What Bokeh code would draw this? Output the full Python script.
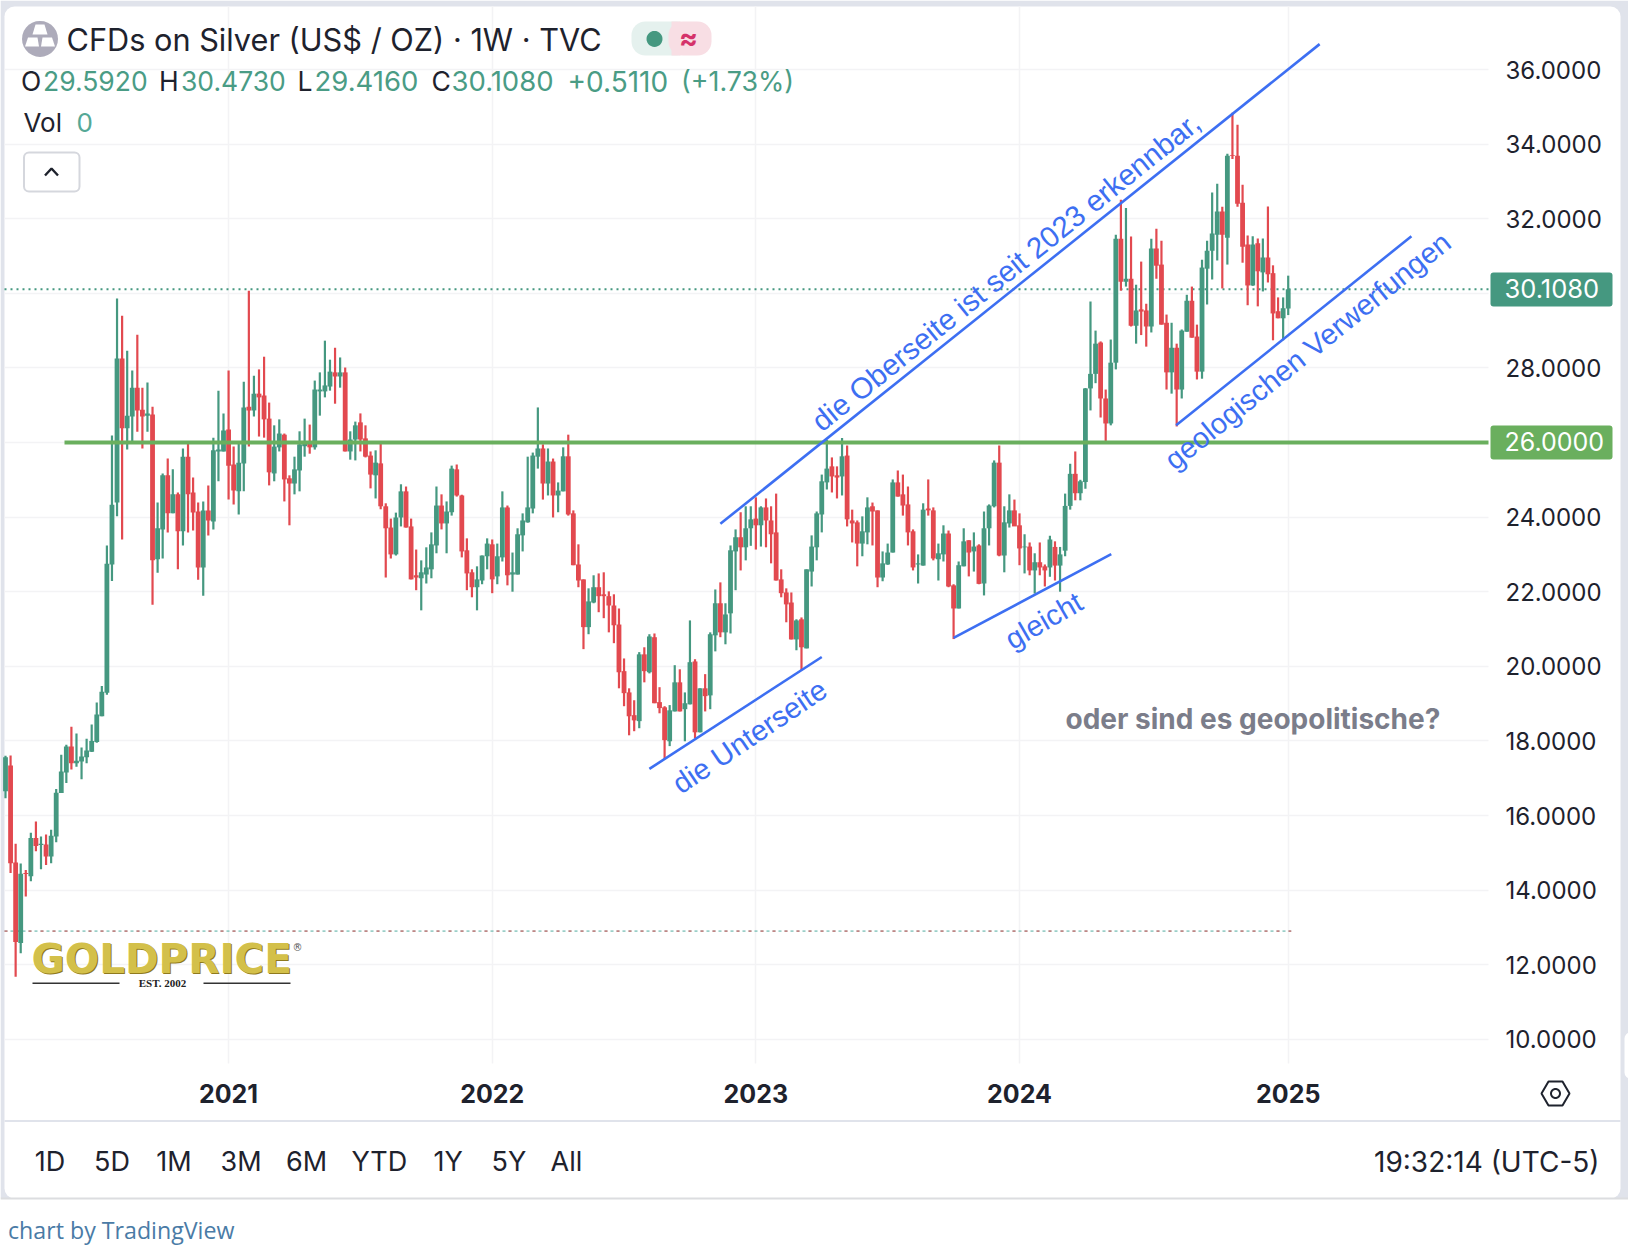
from bokeh.plotting import figure
from bokeh.embed import file_html
from bokeh.resources import INLINE
from bokeh.models import Range1d, FixedTicker, Label, BoxAnnotation, PolyAnnotation, ColumnDataSource
import numpy as np

opens = [16.65,17.34,14.74,12.58,14.46,14.37,15.4,15.21,15.22,14.9,
15.44,16.6,17.15,17.85,17.4,17.45,17.56,17.71,17.97,18.66,
19.29,22.73,24.39,28.25,26.38,26.7,27.47,26.88,26.72,26.75,
22.87,23.67,25.12,24.1,24.61,23.62,25.62,24.66,24.15,22.65,
24.18,23.88,25.76,25.76,26.35,25.41,24.69,25.44,26.96,26.86,
27.31,27.26,26.64,25.17,25.87,26.21,25.04,24.9,25.25,25.9,
25.96,25.87,27.37,27.37,27.5,27.88,27.77,27.88,25.76,26.08,
26.54,26.11,25.65,25.12,25.44,24.29,23.72,23.0,23.99,24.69,
23.75,22.44,22.36,22.46,22.6,23.24,24.31,23.83,24.13,25.28,
24.58,23.11,22.52,22.12,22.3,22.95,23.27,22.41,22.92,24.26,
22.46,22.46,23.51,23.86,24.23,25.62,25.84,24.9,25.49,24.58,
24.69,25.63,24.1,22.73,22.33,21.05,21.71,22.12,21.93,21.88,
21.63,21.12,19.87,19.3,18.69,18.53,20.32,19.84,20.78,19.04,
18.9,17.99,18.79,19.57,18.85,18.98,20.13,18.23,19.41,19.22,
20.83,21.69,20.91,21.42,23.08,23.46,23.19,23.7,23.96,23.78,
24.26,23.91,23.59,22.33,21.98,21.71,20.72,21.26,20.48,22.54,
23.19,24.07,24.93,25.36,25.12,25.09,25.65,23.91,23.86,23.29,
23.59,24.29,24.18,22.38,22.73,23.05,24.93,24.61,24.34,23.62,
22.73,22.7,24.23,24.18,22.87,23.0,23.56,22.17,21.55,22.68,
23.38,23.08,23.24,22.22,23.7,24.29,25.46,22.97,23.83,24.18,
23.78,23.19,23.21,22.57,22.79,22.68,22.65,23.2,22.7,23.1,
24.3,25.16,24.64,24.94,27.45,27.84,28.68,27.18,26.51,28.14,
31.46,30.31,30.39,29.13,29.57,29.54,29.11,31.2,30.77,29.21,
27.88,28.54,27.42,28.97,29.8,28.84,27.9,30.66,31.14,31.57,
32.19,31.49,33.71,33.69,32.43,31.31,30.21,31.34,30.56,30.96,
30.54,29.52,29.33,29.592]

closes = [17.56,14.72,12.61,14.44,14.43,15.4,15.18,15.24,14.9,15.46,
16.61,17.18,17.85,17.4,17.47,17.58,17.74,18.0,18.71,19.32,
22.75,24.33,28.25,26.38,26.72,27.47,26.86,26.7,26.78,22.84,
23.7,25.12,24.1,24.61,23.62,25.62,24.61,24.12,22.65,24.18,
23.91,25.79,25.81,26.32,25.38,24.71,25.46,26.94,26.86,27.31,
27.21,26.62,25.2,25.89,26.24,25.01,24.9,25.28,25.95,26.0,
25.87,27.42,27.42,27.53,27.9,27.77,27.88,25.76,26.08,26.46,
26.08,25.62,25.14,25.46,24.29,23.7,23.0,23.99,24.69,23.72,
22.33,22.38,22.52,22.65,23.27,24.31,23.83,24.15,25.3,24.58,
23.08,22.49,22.12,22.33,22.97,23.29,22.33,22.95,24.26,22.44,
22.52,23.54,23.91,24.26,25.65,25.84,24.9,25.49,24.58,24.71,
25.63,24.07,22.71,22.3,21.05,21.74,22.12,21.88,21.88,21.63,
21.1,19.84,19.28,18.66,18.55,20.32,19.87,20.8,19.01,18.88,
18.02,18.82,19.57,18.79,19.01,20.11,18.23,19.41,19.2,20.86,
21.69,20.91,21.39,23.11,23.46,23.19,23.7,23.94,23.78,24.26,
23.91,23.54,22.3,21.96,21.66,20.72,21.23,20.51,22.6,23.21,
24.1,24.96,25.3,25.09,25.06,25.63,23.94,23.83,23.29,23.62,
24.26,24.15,22.38,22.76,23.05,24.93,24.55,24.31,23.59,22.65,
22.76,24.2,24.18,22.89,23.03,23.56,22.14,21.55,22.71,23.35,
23.05,23.21,22.21,23.7,24.31,25.46,22.97,23.86,24.18,23.75,
23.16,23.21,22.57,22.79,22.65,22.57,23.4,22.7,23.0,24.3,
25.16,24.64,24.96,27.45,27.84,28.65,27.18,26.51,28.14,31.46,
30.31,30.39,29.13,29.54,29.51,29.11,31.2,30.74,29.16,27.88,
28.54,27.42,29.0,29.8,28.81,27.9,30.69,31.14,31.6,32.19,
31.57,33.69,33.69,32.4,31.25,30.21,31.31,30.59,30.96,30.51,
29.46,29.33,29.6,30.108]

highs = [17.6,17.61,15.24,14.71,14.54,15.54,15.84,15.44,15.49,15.62,
16.71,17.63,17.9,18.38,18.2,17.82,18.06,18.44,19.03,19.47,
23.24,26.19,29.86,29.4,28.46,27.93,28.89,27.47,27.61,26.96,
24.39,25.17,25.57,25.28,24.66,25.84,26.0,25.06,24.39,24.42,
24.85,26.13,27.39,26.78,27.93,25.89,26.03,27.63,30.07,27.79,
27.96,28.3,27.07,26.46,26.62,26.24,25.12,25.62,26.3,26.64,
26.48,27.66,27.88,28.73,28.22,28.54,28.28,28.01,26.3,26.56,
26.78,26.46,25.76,25.79,26.0,24.37,23.96,24.12,24.88,24.82,
23.96,23.13,22.84,23.19,23.59,24.82,24.61,24.42,25.38,25.41,
24.6,23.43,22.6,22.68,22.97,23.43,23.4,23.29,24.69,24.31,
23.05,23.7,24.1,25.62,25.73,26.94,25.95,25.84,25.57,24.93,
25.87,26.21,24.18,23.27,22.33,22.09,22.44,22.49,22.52,22.01,
21.93,21.55,20.21,19.41,19.09,20.38,20.51,20.86,20.88,19.44,
18.93,18.96,20.03,19.92,19.3,21.23,20.19,19.41,19.79,20.91,
22.06,22.25,21.69,23.24,23.67,24.13,24.29,24.29,24.53,24.29,
24.5,24.29,24.63,22.6,22.09,21.98,21.26,21.31,22.6,23.51,
24.15,25.14,26.07,25.6,25.36,26.12,25.92,24.2,23.91,24.02,
24.53,24.39,24.18,23.08,23.29,25.01,25.25,25.14,24.82,23.67,
23.0,24.37,25.01,24.26,23.29,23.78,23.64,22.2,22.81,23.7,
23.38,23.59,23.27,24.15,24.34,25.52,25.92,24.29,24.61,24.47,
24.1,23.54,23.32,23.03,23.32,22.73,23.5,23.35,23.2,24.63,
25.43,25.76,25.0,27.46,29.78,29.0,28.71,27.42,28.76,31.57,
32.51,32.29,31.52,30.23,30.85,29.72,31.46,31.73,31.41,29.43,
29.21,28.65,29.03,29.96,30.18,29.16,30.9,31.41,32.7,32.94,
32.32,33.74,34.84,34.52,32.91,31.55,31.53,31.47,31.47,32.33,
30.75,29.89,29.89,30.473]

lows = [16.46,14.46,11.68,12.31,13.83,14.24,15.04,14.56,14.67,14.72,
15.28,16.6,16.87,17.23,17.31,16.97,17.4,17.7,17.95,18.66,
19.24,22.29,24.02,23.4,25.81,26.04,26.29,25.84,26.29,21.65,
22.51,22.89,23.59,24.1,22.6,23.24,23.59,23.64,22.32,21.89,
23.51,23.67,24.96,25.76,24.47,24.34,24.07,24.69,25.89,26.7,
26.16,26.13,24.85,24.96,25.76,24.42,23.78,24.61,24.69,25.62,
25.7,25.81,26.72,27.21,27.39,27.04,27.47,25.76,25.54,25.52,
25.76,25.6,24.77,24.5,24.21,22.38,22.89,22.97,23.75,23.72,
22.33,22.04,21.5,22.22,22.36,23.03,23.67,23.03,24.04,24.55,
22.92,22.04,21.85,21.5,22.2,22.6,21.96,22.2,22.81,22.17,
22.0,22.46,23.08,23.85,24.1,25.3,24.47,24.58,23.99,24.13,
24.69,24.04,22.71,22.12,20.46,20.86,21.69,21.45,21.29,20.91,
20.62,19.41,18.93,18.15,18.26,18.34,19.57,19.81,19.01,18.74,
17.52,17.86,18.79,18.79,17.99,18.98,18.07,18.23,18.79,18.85,
20.4,20.78,20.59,20.88,22.04,22.57,22.84,23.23,23.13,23.21,
23.19,22.76,22.3,21.85,21.18,20.72,20.43,19.89,20.48,22.14,
22.84,23.59,24.74,24.66,24.5,24.58,23.75,23.32,22.68,22.95,
23.27,23.24,22.12,22.28,22.72,23.05,24.55,24.04,23.24,22.57,
22.22,22.7,24.04,22.84,22.3,22.81,22.12,20.73,21.55,22.68,
22.41,22.54,22.2,21.9,23.24,24.26,22.95,22.52,23.72,23.78,
22.71,22.49,22.44,21.95,22.44,22.14,22.4,22.3,22.0,22.95,
24.2,24.45,24.45,24.76,26.86,27.59,26.67,26.03,26.46,27.96,
30.07,30.18,29.11,28.65,28.88,28.57,28.95,30.39,29.16,27.42,
27.31,26.43,27.18,28.97,28.81,27.69,27.71,29.7,30.37,30.88,
30.13,30.77,33.6,32.32,30.82,29.68,30.2,29.65,30.05,30.29,
28.74,29.33,28.74,29.416]

assert len(opens) == len(closes) == len(highs) == len(lows) == 254

year_positions = [44, 96, 148, 200, 253]
year_labels = ["2021", "2022", "2023", "2024", "2025"]
price_ticks = list(range(10, 38, 2))
last_price = 30.108
level_price = 26.0
low_level = 12.9

# annotated trend lines: (week index, price) pairs
upper_x, upper_y = [141.0, 259.2], [23.82, 36.68]
lower1_x, lower1_y = [127.0, 161.0], [17.25, 20.25]
lower2_x, lower2_y = [187.0, 218.1], [20.76, 23.01]
lower3_x, lower3_y = [230.9, 277.3], [26.46, 31.53]

GREEN, RED = "#459880", "#E2494F"
TXT = "#1E222D"
BLUE = "#3D6FF2"
BAND = "#E0E3EB"
FONT = "Inter"

PXW, PXH = 5.07, 37.3
X = lambda px: (px - 5) / PXW          # canvas px -> week index
Y = lambda py: 26 - (py - 442) / PXH   # canvas py -> price

p = figure(width=1628, height=1248, output_backend="svg", toolbar_location=None,
           x_range=Range1d(X(0), X(1628)), y_range=Range1d(Y(1248), Y(0)),
           y_axis_location="right", min_border=0)
p.outline_line_color = None
p.background_fill_color = None
p.border_fill_color = "white"

# axes and grid
for ax in (p.xaxis[0], p.yaxis[0]):
    ax.axis_line_color = None
    ax.major_tick_line_color = None
    ax.minor_tick_line_color = None
    ax.major_label_text_font = FONT
    ax.major_label_text_font_size = "24px"
    ax.major_label_text_color = TXT
p.xaxis[0].fixed_location = Y(1063)
p.yaxis[0].fixed_location = X(1488)
p.xaxis[0].ticker = FixedTicker(ticks=year_positions)
p.xaxis[0].major_label_overrides = dict(zip(year_positions, year_labels))
p.xaxis[0].major_label_text_font_style = "bold"
p.xaxis[0].major_label_text_font_size = "25px"
p.xaxis[0].major_label_standoff = 14
p.yaxis[0].ticker = FixedTicker(ticks=price_ticks)
over = {t: f"{t:.4f}" for t in price_ticks}
over[26] = ""
over[30] = ""
p.yaxis[0].major_label_overrides = over
p.yaxis[0].major_label_standoff = 11
for g in (p.xgrid[0], p.ygrid[0]):
    g.grid_line_color = "#F3F3F5"
    g.grid_line_width = 1.6
p.xgrid[0].cross_bounds = (Y(1063), Y(6))
p.ygrid[0].cross_bounds = (X(4), X(1488))


def box(l, t, r, b, color, radius=0, level="annotation", line=None):
    bx = BoxAnnotation(left=X(l), right=X(r), top=Y(t), bottom=Y(b), fill_color=color,
                       fill_alpha=1 if color else 0,
                       line_color=line, line_alpha=1 if line else 0, border_radius=radius, level=level,
                       editable=False)
    if line:
        bx.line_width = 2
    p.add_layout(bx)
    return bx


def label(px, py, text, size=23, color=TXT, font=FONT, style="normal", align="left", base="middle", angle=0):
    p.add_layout(Label(x=X(px), y=Y(py), text=text, text_font=font, text_font_size=f"{size}px",
                       text_font_style=style, text_color=color, text_align=align, text_baseline=base,
                       angle=angle, angle_units="deg"))


def poly(pts, fill=None, line=None, lw=2):
    p.add_layout(PolyAnnotation(xs=[X(a) for a, _ in pts], ys=[Y(b) for _, b in pts],
                                fill_color=fill, fill_alpha=1 if fill else 0,
                                line_color=line, line_alpha=1 if line else 0, line_width=lw, editable=False))


def disc(cx, cy, r, fill=None, line=None, lw=2):
    th = np.linspace(0, 2 * np.pi, 28, endpoint=False)
    poly([(cx + r * np.cos(a), cy + r * np.sin(a)) for a in th], fill=fill, line=line, lw=lw)


# card background
box(0, 0, 1628, 1198, BAND, level="image")
box(4, 6, 1620, 1198, "white", radius=10, level="image")
box(1624, 1032, 1640, 1078, "white", radius=6, level="image")
box(4, 1119.5, 1620, 1121.5, BAND, level="image")
box(0, 1197, 1628, 1199, "#DCDDE0", level="image")

# horizontal levels
p.line([X(4), X(1488)], [last_price, last_price], line_color=GREEN, line_width=2, line_dash="2 4")
p.line([X(4), 253.6], [low_level, low_level], line_color="#49A89A", line_alpha=0.55, line_width=1.6, line_dash="3 3")
p.line([X(4), 253.6], [low_level, low_level], line_color="#E2494F", line_alpha=0.55, line_width=1.6, line_dash="3 9")

# candles
src = ColumnDataSource(dict(x=list(range(len(opens))), o=opens, c=closes, h=highs, l=lows,
                            col=[GREEN if c >= o else RED for o, c in zip(opens, closes)]))
p.segment("x", "h", "x", "l", source=src, line_color="col", line_width=2.2)
p.vbar("x", width=0.95, top="o", bottom="c", source=src, fill_color="col", line_color=None)

p.line([X(64), X(1488)], [level_price, level_price], line_color="#6AAF5E", line_width=4.2)

for xs, ys in ((upper_x, upper_y), (lower1_x, lower1_y), (lower2_x, lower2_y), (lower3_x, lower3_y)):
    p.line(xs, ys, line_color=BLUE, line_width=2.6)

# drawn-on texts
HAND = "Liberation Sans"
label(815, 424, "die Oberseite ist seit 2023 erkennbar,", 29.5, BLUE, HAND, base="alphabetic", angle=38.8)
label(675, 786, "die Unterseite", 29, BLUE, HAND, base="alphabetic", angle=34)
label(1007, 641, "gleicht", 29, BLUE, HAND, base="alphabetic", angle=30)
label(1168, 463, "geologischen Verwerfungen", 29, BLUE, HAND, base="alphabetic", angle=39)
label(1065, 718, "oder sind es geopolitische?", 28, "#7B7D8A", FONT, style="bold")

# price boxes
box(1490, 272, 1612, 306, GREEN, radius=3)
label(1504, 288, "30.1080", 25.5, "white")
box(1490, 425, 1612, 459, "#6AAF5E", radius=3)
label(1504, 441, "26.0000", 25, "white")

# header
disc(39.5, 38.4, 18, fill="#ADABBA")
poly([(35, 24), (44, 24), (47, 34), (32, 34)], fill="white")
poly([(27.5, 37), (37, 37), (38.5, 46), (24.5, 46)], fill="white")
poly([(42, 37), (51.5, 37), (54.5, 46), (40.5, 46)], fill="white")
label(66, 38.5, "CFDs on Silver (US$ / OZ) \u00b7 1W \u00b7 TVC", 30.7)
box(631, 21, 690, 55, "#E5F1EE", radius=14)
box(668, 21, 711, 55, "#F8DEE4", radius=14)
box(671, 21, 680, 55, "#F8DEE4")
disc(654, 38.4, 8, fill=GREEN)
label(688, 37.5, "\u2248", 28, "#D5326A", style="bold", align="center")
G2 = "#4A9C85"
for px, t, c, s in ((20.5, "O", TXT, 26.5), (42.5, "29.5920", G2, 26.5), (158.5, "H", TXT, 26.5),
                    (180.5, "30.4730", G2, 26.5), (297, "L", TXT, 26.5), (314, "29.4160", G2, 27.5),
                    (431, "C", TXT, 26.5), (451, "30.1080", G2, 27.5), (567, "+0.5110", G2, 28),
                    (680.5, "(+1.73%)", G2, 26.8)):
    label(px, 80.5, t, s, c)
label(23, 122, "Vol", 26)
label(76, 122, "0", 26, "#55A896")
box(23.5, 152, 79, 191, None, radius=5, line="#D5D7DD")
p.line([X(44.5), X(51), X(57.5)], [Y(175), Y(168), Y(175)], line_color=TXT, line_width=2.4)

# logo
label(32, 959, "GOLDPRICE", 40.5, "#8F7A1E", "DejaVu Sans", style="bold")
label(31, 958, "GOLDPRICE", 40.5, "#D3C04A", "DejaVu Sans", style="bold")
label(292, 947, "\u00ae", 10, "#555555", "DejaVu Sans")
label(162, 982, "EST. 2002", 11, "#222222", "Liberation Serif", style="bold", align="center")
box(32, 982, 119, 983.5, "#333333")
box(203, 982, 290, 983.5, "#333333")

# bottom bar
for px, t in zip((34.3, 93.5, 155.8, 220, 285.6, 351, 433, 491, 550),
                 ("1D", "5D", "1M", "3M", "6M", "YTD", "1Y", "5Y", "All")):
    label(px, 1161, t, 27)
label(1599, 1161, "19:32:14 (UTC-5)", 28, align="right")
label(7.5, 1229, "chart by TradingView", 23.2, "#4A7BA6", "Open Sans")

# settings icon
poly([(1541, 1093), (1548, 1081), (1562, 1081), (1569, 1093), (1562, 1105), (1548, 1105)], line=TXT, lw=2)
disc(1555, 1093, 4.5, line=TXT, lw=2)

open("out.html", "w").write(file_html(p, INLINE))
